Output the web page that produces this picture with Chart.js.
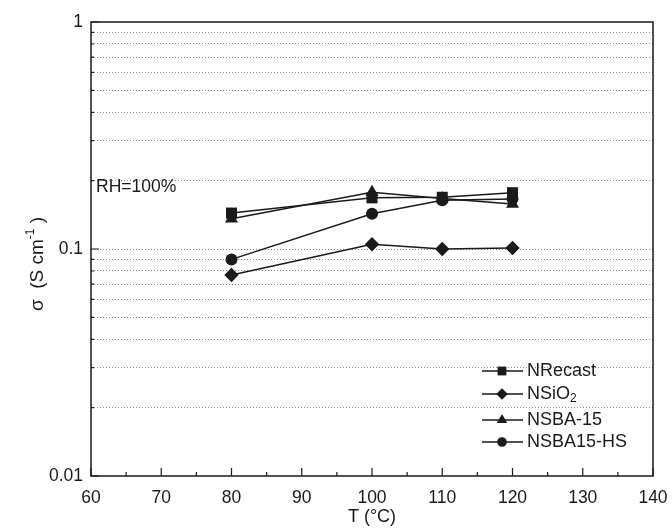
<!DOCTYPE html>
<html>
<head>
<meta charset="utf-8">
<script src="https://cdn.jsdelivr.net/npm/chart.js@4"></script>
<style>
	html, body { margin: 0; padding: 0; background: #fff; }
	canvas { display: block; }
</style>
</head>
<body>
<canvas id="sigma" width="672" height="530"></canvas>
<script>
// data
var temps = [80, 100, 110, 120];
var nrecast = [0.144, 0.168, 0.169, 0.177];
var nsio2 = [0.0768, 0.105, 0.100, 0.101];
var nsba15 = [0.136, 0.178, 0.167, 0.158];
var nsba15hs = [0.0900, 0.143, 0.164, 0.166];

// legend names: [main text, subscript]
var seriesNames = [["NRecast", ""], ["NSiO", "2"], ["NSBA-15", ""], ["NSBA15-HS", ""]];
var yTicks = [0.01, 0.02, 0.03, 0.04, 0.05, 0.06, 0.07, 0.08, 0.09,
	0.1, 0.2, 0.3, 0.4, 0.5, 0.6, 0.7, 0.8, 0.9, 1];
var yLabels = { "0.01": "0.01", "0.1": "0.1", "1": "1" };

const ink = "#1a1a1a";
const fontFam = "'Liberation Sans', Arial, sans-serif";

function isMajorY(v) {
	return Math.abs(Math.log10(v) - Math.round(Math.log10(v))) < 1e-6;
}

function makeSet(label, data, style, radius) {
	return {
		label: label,
		data: data,
		borderColor: ink,
		backgroundColor: ink,
		borderWidth: 1.5,
		pointStyle: style,
		pointRadius: radius,
		pointBorderWidth: 0,
		tension: 0,
	};
}

// ---------------------------------------- frame, inward ticks, legend ----------------------------------------

const framePlugin = {
	id: "frame",
	afterDraw(chart) {
		const ctx = chart.ctx;
		const a = chart.chartArea;
		const xs = chart.scales.x;
		const ys = chart.scales.y;
		ctx.save();
		ctx.strokeStyle = ink;
		ctx.lineWidth = 1.5;
		ctx.strokeRect(a.left, a.top, a.right - a.left, a.bottom - a.top);

		ctx.lineWidth = 1.2;
		ctx.beginPath();
		xs.ticks.forEach(t => {
			const px = xs.getPixelForValue(t.value);
			const len = t.value % 10 === 0 ? 8 : 4;
			ctx.moveTo(px, a.bottom);
			ctx.lineTo(px, a.bottom - len);
		});
		ys.ticks.forEach(t => {
			const py = ys.getPixelForValue(t.value);
			const len = isMajorY(t.value) ? 8 : 3;
			ctx.moveTo(a.left, py);
			ctx.lineTo(a.left + len, py);
		});
		ctx.stroke();

		// annotation
		ctx.fillStyle = ink;
		ctx.font = "17.5px " + fontFam;
		ctx.textBaseline = "middle";
		ctx.textAlign = "left";
		ctx.fillText("RH=100%", a.left + 5, 187);

		// y axis title with superscript
		ctx.save();
		ctx.translate(36, 264);
		ctx.rotate(-Math.PI / 2);
		const big = "19px " + fontFam;
		const small = "12px " + fontFam;
		const p1 = "\u03c3  (S cm", p2 = "-1", p3 = " )";
		ctx.font = big;
		const w1 = ctx.measureText(p1).width, w3 = ctx.measureText(p3).width;
		ctx.font = small;
		const w2 = ctx.measureText(p2).width;
		let x0 = -(w1 + w2 + w3) / 2;
		ctx.textBaseline = "alphabetic";
		ctx.font = big;
		ctx.fillText(p1, x0, 7);
		ctx.font = small;
		ctx.fillText(p2, x0 + w1, -2);
		ctx.font = big;
		ctx.fillText(p3, x0 + w1 + w2, 7);
		ctx.restore();

		// legend
		const rows = [371, 394, 420, 442];
		chart.data.datasets.forEach((ds, i) => {
			const y = rows[i];
			ctx.strokeStyle = ink;
			ctx.lineWidth = 1.5;
			ctx.beginPath();
			ctx.moveTo(482, y);
			ctx.lineTo(523, y);
			ctx.stroke();
			ctx.fillStyle = ink;
			Chart.helpers.drawPoint(ctx, {
				pointStyle: ds.pointStyle,
				radius: ds.pointRadius * 0.8,
				rotation: 0,
				borderWidth: 0,
			}, 502, y);
			ctx.fillStyle = ink;
			ctx.textBaseline = "middle";
			ctx.font = "18px " + fontFam;
			ctx.fillText(seriesNames[i][0], 527, y);
			if (seriesNames[i][1]) {
				const w = ctx.measureText(seriesNames[i][0]).width;
				ctx.font = "12px " + fontFam;
				ctx.fillText(seriesNames[i][1], 527 + w, y + 5);
			}
		});
		ctx.restore();
	},
};

const chartSigma = document.getElementById("sigma");

const graphSigma = new Chart(chartSigma, {
	type: "line",
	data: {
		labels: temps,
		datasets: [
			makeSet("NRecast", nrecast, "rect", 7.8),
			makeSet("NSiO2", nsio2, "rectRot", 7.2),
			makeSet("NSBA-15", nsba15, "triangle", 7.5),
			makeSet("NSBA15-HS", nsba15hs, "circle", 6),
		],
	},
	options: {
		responsive: false,
		animation: false,
		layout: {
			padding: { top: 22, right: 19, left: 0, bottom: 0 },
		},
		plugins: {
			legend: { display: false },
			tooltip: { enabled: false },
		},
		scales: {
			x: {
				type: "linear",
				min: 60,
				max: 140,
				afterFit: s => { s.height = 54; },
				grid: { display: false },
				border: { display: false },
				ticks: {
					stepSize: 5,
					autoSkip: false,
					maxRotation: 0,
					padding: 4,
					color: ink,
					font: { family: fontFam, size: 17.5 },
					callback: v => (v % 10 === 0 ? String(v) : ""),
				},
				title: {
					display: true,
					text: "T (\u00b0C)",
					color: ink,
					font: { family: fontFam, size: 18 },
					padding: { top: 0, bottom: 2 },
				},
			},
			y: {
				type: "logarithmic",
				min: 0.01,
				max: 1,
				afterFit: s => { s.width = 91; },
				afterBuildTicks: s => {
					s.ticks = yTicks.map(v => ({ value: v }));
				},
				grid: {
					drawTicks: false,
					lineWidth: 1,
					color: ctx => {
						const v = ctx.tick ? ctx.tick.value : 0;
						return v === 0.01 || v === 1 ? "rgba(0,0,0,0)" : "#8a8a8a";
					},
				},
				border: { display: false, dash: [1, 2] },
				ticks: {
					autoSkip: false,
					padding: 8,
					color: ink,
					font: { family: fontFam, size: 17.5 },
					callback: v => yLabels[String(v)] || "",
				},
				title: { display: false },
			},
		},
	},
	plugins: [framePlugin],
});
</script>
</body>
</html>
